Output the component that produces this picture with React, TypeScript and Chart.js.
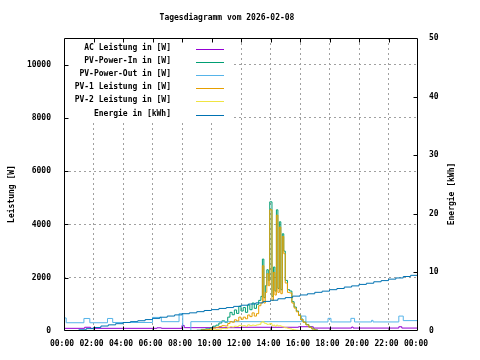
import React, { useEffect, useRef } from "react";
import { Chart, registerables } from "chart.js";

Chart.register(...registerables);

const TITLE = "Tagesdiagramm vom 2026-02-08";
const LEFT_TITLE = "Leistung [W]";
const RIGHT_TITLE = "Energie [kWh]";

const seriesNames = [
  "AC Leistung in [W]",
  "PV-Power-In in [W]",
  "PV-Power-Out in [W]",
  "PV-1 Leistung in [W]",
  "PV-2 Leistung in [W]",
  "Energie in [kWh]",
];
const seriesColors = ["#9400d3", "#009e73", "#56b4e9", "#e69f00", "#f0e442", "#0072b2"];

const leftTicks = [0, 2000, 4000, 6000, 8000, 10000];
const rightTicks = [0, 10, 20, 30, 40, 50];
const hourTicks = [0, 2, 4, 6, 8, 10, 12, 14, 16, 18, 20, 22, 24];

// AC Leistung (W)
const acTimes = [0, 1.4, 1.8, 6.3, 6.6, 8.0, 8.15, 12.0, 15.9, 16.9, 19.5, 19.6, 22.7, 22.9, 24];
const acValues = [100, 140, 100, 120, 100, 210, 125, 140, 160, 110, 150, 110, 160, 110, 110];

// PV-Power-Out (W)
const outTimes = [0, 0.15, 1.35, 1.75, 2.95, 3.3, 6.0, 6.6, 7.8, 8.05, 8.6, 16.1, 16.4, 17.9, 18.1, 19.45, 19.7, 20.85, 20.95, 22.7, 23.0, 24];
const outValues = [490, 310, 470, 310, 470, 320, 510, 350, 650, 0, 350, 560, 340, 475, 340, 475, 340, 400, 340, 560, 390, 390];

// PV times (h) and values (W)
const pvTimes = [
  8.5, 8.7, 9.0, 9.3, 9.6, 9.9, 10.1, 10.3, 10.5, 10.7, 10.9, 11.1, 11.25, 11.4, 11.55, 11.7, 11.85,
  12.0, 12.15, 12.3, 12.45, 12.6, 12.75, 12.9, 13.05, 13.2, 13.35, 13.45, 13.55, 13.65, 13.75, 13.85,
  13.95, 14.1, 14.2, 14.3, 14.4, 14.5, 14.6, 14.7, 14.8, 14.9, 15.0, 15.15, 15.3, 15.45, 15.6, 15.75,
  15.9, 16.05, 16.2, 16.4, 16.6, 16.8, 17.0, 17.2, 17.4,
];
const pvInValues = [
  0, 20, 30, 60, 80, 120, 180, 220, 300, 380, 330, 520, 700, 610, 790, 660, 930,
  750, 880, 700, 980, 800, 1050, 850, 1000, 1150, 1300, 2700, 1250, 1700, 2300, 1900,
  4850, 1300, 2400, 1500, 4550, 1600, 4100, 1550, 3650, 3000, 1900, 1550, 1500, 1100, 900, 750,
  600, 450, 340, 240, 150, 80, 40, 10, 0,
];
const pv1Values = [
  0, 10, 20, 40, 50, 70, 110, 140, 170, 200, 190, 280, 350, 330, 420, 380, 520,
  440, 520, 460, 600, 540, 680, 560, 650, 950, 1050, 2450, 1050, 1450, 2150, 1700,
  4550, 1150, 2200, 1350, 4350, 1450, 3900, 1400, 3550, 2900, 1800, 1450, 1430, 1050, 860, 720,
  580, 430, 330, 230, 140, 75, 35, 10, 0,
];
const pv2Values = [
  0, 0, 0, 10, 20, 30, 40, 50, 70, 100, 90, 140, 160, 150, 180, 170, 210,
  190, 200, 180, 230, 200, 220, 210, 230, 250, 330, 350, 300, 280, 250, 250,
  280, 200, 220, 180, 220, 190, 200, 180, 160, 140, 120, 100, 80, 60, 40, 30,
  20, 20, 10, 10, 5, 0, 0, 0, 0,
];

// Energie (kWh), half-hourly from 00:00 to 24:00
const energyValues = [
  0.0, 0.05, 0.2, 0.4, 0.6, 0.85, 1.05, 1.25, 1.45, 1.6, 1.75, 1.95, 2.15, 2.35, 2.55, 2.75,
  2.95, 3.1, 3.3, 3.5, 3.65, 3.85, 4.0, 4.2, 4.4, 4.6, 4.8, 5.05, 5.25, 5.5, 5.7, 5.95,
  6.15, 6.35, 6.6, 6.8, 7.05, 7.25, 7.5, 7.7, 7.95, 8.15, 8.4, 8.6, 8.85, 9.05, 9.3, 9.5, 9.75,
];
const energyTimes = energyValues.map((_, i) => i * 0.5);

const FONT_FAMILY = "'DejaVu Sans Mono', monospace";
const FONT = `bold 8px ${FONT_FAMILY}`;
const GRID_COLOR = "#a0a0a0";

const pts = (t: number[], v: number[]) => t.map((x, i) => ({ x, y: v[i] }));

const decor = {
  id: "decor",
  beforeDatasetsDraw(chart: any) {
    const { ctx, chartArea: a } = chart;
    ctx.save();
    ctx.fillStyle = "#ffffff";
    ctx.fillRect(a.left + 1, a.top + 1, 166, 82);
    ctx.font = FONT;
    ctx.textAlign = "right";
    ctx.textBaseline = "alphabetic";
    seriesNames.forEach((name, i) => {
      const y = Math.round(49 + i * 13.1);
      ctx.fillStyle = "#000";
      ctx.fillText(name, 171, y + 1);
      ctx.strokeStyle = seriesColors[i];
      ctx.lineWidth = 1;
      ctx.beginPath();
      ctx.moveTo(196, y + 0.5);
      ctx.lineTo(224, y + 0.5);
      ctx.stroke();
    });
    ctx.restore();
  },
  afterDatasetsDraw(chart: any) {
    const { ctx, chartArea: a, scales } = chart;
    ctx.save();
    ctx.strokeStyle = "#000";
    ctx.lineWidth = 1;
    const L = Math.round(a.left) + 0.5;
    const R = Math.round(a.right) - 0.5;
    const T = Math.round(a.top) + 0.5;
    const B = Math.round(a.bottom) - 0.5;
    ctx.beginPath();
    ctx.rect(L, T, R - L, B - T);
    leftTicks.slice(1).forEach((v) => {
      const y = Math.round(scales.y.getPixelForValue(v)) + 0.5;
      ctx.moveTo(L, y);
      ctx.lineTo(L + 4, y);
    });
    rightTicks.slice(1, -1).forEach((v) => {
      const y = Math.round(scales.y1.getPixelForValue(v)) + 0.5;
      ctx.moveTo(R, y);
      ctx.lineTo(R - 4, y);
    });
    hourTicks.slice(1, -1).forEach((h) => {
      const x = Math.round(scales.x.getPixelForValue(h)) + 0.5;
      ctx.moveTo(x, B);
      ctx.lineTo(x, B - 4);
      ctx.moveTo(x, T);
      ctx.lineTo(x, T + 4);
    });
    ctx.stroke();
    ctx.restore();
  },
  afterDraw(chart: any) {
    const { ctx } = chart;
    const drawText = (text: string, x: number, y: number, rot: number) => {
      ctx.save();
      ctx.font = FONT;
      ctx.fillStyle = "#000";
      ctx.textAlign = "center";
      ctx.textBaseline = "middle";
      ctx.translate(x, y);
      ctx.rotate(rot);
      ctx.fillText(text, 0, 0);
      ctx.restore();
    };
    drawText(TITLE, 227, 18, 0);
    drawText(LEFT_TITLE, 12, 194, -Math.PI / 2);
    drawText(RIGHT_TITLE, 452, 194, -Math.PI / 2);
  },
};

export default function App() {
  const ref = useRef<HTMLCanvasElement | null>(null);
  useEffect(() => {
    if (!ref.current) return;
    const ds = (i: number, data: any[], axis = "y") => ({
      label: seriesNames[i],
      data,
      borderColor: seriesColors[i],
      backgroundColor: seriesColors[i],
      borderWidth: 1,
      pointRadius: 0,
      stepped: true,
      fill: false,
      yAxisID: axis,
      order: 6 - i,
    });
    const tickFont = { family: FONT_FAMILY, size: 8, weight: "bold" as const };
    const chart = new Chart(ref.current, {
      type: "line",
      data: {
        datasets: [
          ds(0, pts(acTimes, acValues)),
          ds(1, pts(pvTimes, pvInValues)),
          ds(2, pts(outTimes, outValues)),
          ds(3, pts(pvTimes, pv1Values)),
          ds(4, pts(pvTimes, pv2Values)),
          ds(5, pts(energyTimes, energyValues), "y1"),
        ],
      },
      options: {
        responsive: false,
        animation: false,
        devicePixelRatio: 1,
        layout: { padding: { top: 38, left: 0, right: 0, bottom: 0 } },
        plugins: { legend: { display: false }, title: { display: false }, tooltip: { enabled: false } },
        scales: {
          x: {
            type: "linear",
            position: "bottom",
            min: 0,
            max: 24,
            afterFit: (s: any) => {
              s.height = 29;
            },
            afterBuildTicks: (s: any) => {
              s.ticks = hourTicks.map((value) => ({ value }));
            },
            ticks: {
              autoSkip: false,
              maxRotation: 0,
              minRotation: 0,
              padding: 8,
              labelOffset: -2,
              color: "#000",
              font: tickFont,
              callback: (v: any) => String(Number(v) % 24).padStart(2, "0") + ":00",
            },
            grid: {
              drawTicks: false,
              lineWidth: 1,
              color: (c: any) => (c.tick && (c.tick.value === 0 || c.tick.value === 24) ? "rgba(0,0,0,0)" : GRID_COLOR),
            },
            border: { display: false, dash: [2, 3] },
          },
          y: {
            position: "left",
            min: 0,
            max: 11000,
            afterFit: (s: any) => {
              s.width = 64;
            },
            afterBuildTicks: (s: any) => {
              s.ticks = leftTicks.map((value) => ({ value }));
            },
            ticks: {
              autoSkip: false,
              padding: 13,
              color: "#000",
              font: tickFont,
              callback: (v: any) => String(v),
            },
            grid: {
              drawTicks: false,
              lineWidth: 1,
              color: (c: any) => (c.tick && c.tick.value === 0 ? "rgba(0,0,0,0)" : GRID_COLOR),
            },
            border: { display: false, dash: [2, 3] },
          },
          y1: {
            position: "right",
            min: 0,
            max: 50,
            afterFit: (s: any) => {
              s.width = 62;
            },
            afterBuildTicks: (s: any) => {
              s.ticks = rightTicks.map((value) => ({ value }));
            },
            ticks: {
              autoSkip: false,
              padding: 11,
              color: "#000",
              font: tickFont,
              callback: (v: any) => String(v),
            },
            grid: { display: false, drawTicks: false },
            border: { display: false },
          },
        },
      },
      plugins: [decor],
    });
    return () => chart.destroy();
  }, []);
  return (
    <div style={{ position: "fixed", left: 0, top: 0, width: 480, height: 360, background: "#fff" }}>
      <canvas ref={ref} width={480} height={360} />
    </div>
  );
}
